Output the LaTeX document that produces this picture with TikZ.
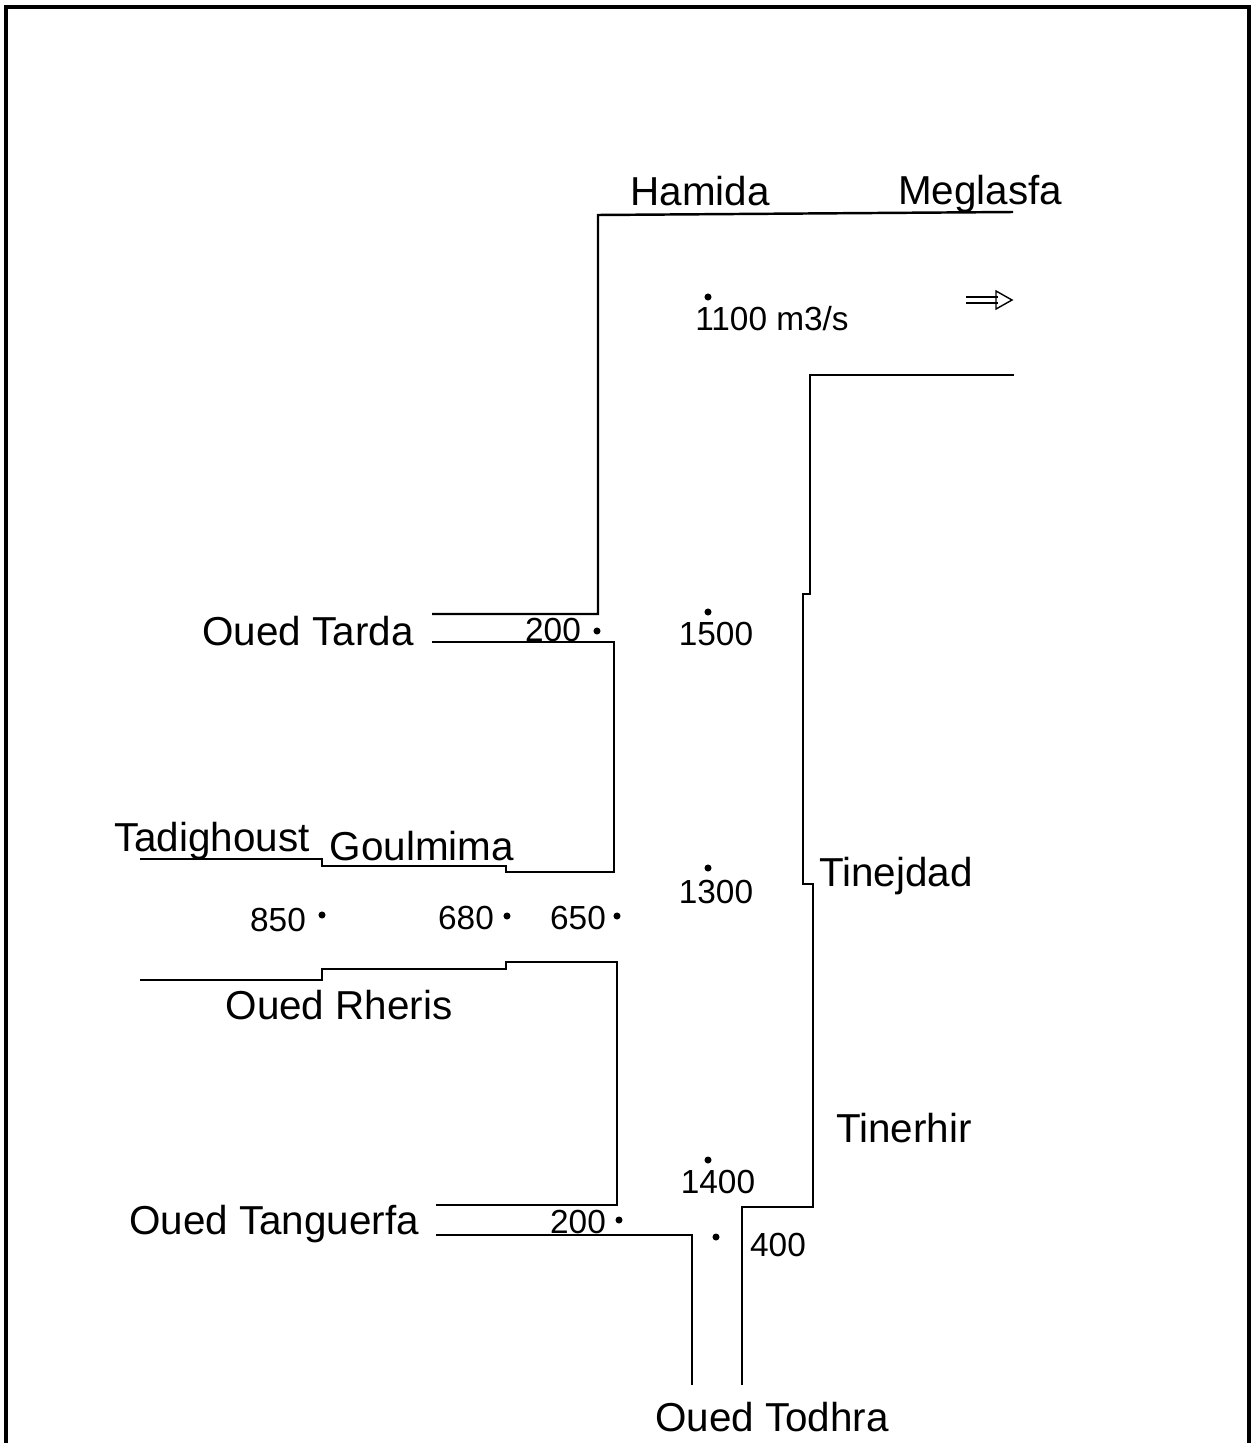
\documentclass[tikz,border=0pt]{standalone}
\usepackage{fontspec}
\setmainfont{Liberation Sans}
\usetikzlibrary{arrows.meta}

\begin{document}
\begin{tikzpicture}[
  x=0.02cm, y=-0.02cm,
  bank/.style={draw=black, line width=1.4pt, line join=miter},
  frm/.style={draw=black, line width=2pt},
  lbl/.style={font=\fontsize{23}{27}\selectfont, inner sep=1pt},
  num/.style={font=\fontsize{19}{22}\selectfont, inner sep=1pt},
  pt/.style={fill=black, circle, inner sep=0pt, minimum size=4pt}
]
\useasboundingbox (0,0) rectangle (1255,1443);
% frame, open at the bottom
\draw[frm] (6,1460) -- (6,7) -- (1249,7) -- (1249,1460);

% left bank of the main valley
\draw[bank] (1013,212) -- (598,215) -- (598,614) -- (432,614);
\draw[bank] (432,642) -- (614,642) -- (614,872) -- (506,872) -- (506,866)
  -- (322,866) -- (322,859) -- (140,859);
\draw[bank] (140,980) -- (322,980) -- (322,969) -- (506,969) -- (506,962)
  -- (617,962) -- (617,1205) -- (436,1205);
\draw[bank] (436,1235) -- (692,1235) -- (692,1385);
% right bank
\draw[bank] (742,1385) -- (742,1207) -- (813,1207) -- (813,884) -- (803,884)
  -- (803,594) -- (810,594) -- (810,375) -- (1014,375);

% flow arrow
\draw[line width=0.8pt] (966,297) -- (998,297) (966,303) -- (998,303);
\draw[line width=0.8pt] (996,291) -- (1012,300) -- (996,309) -- cycle;

% places
\node[lbl, anchor=base] (hamida) at (700,205) {Hamida};
\node[lbl, anchor=base] (meglasfa) at (980,204) {Meglasfa};
\node[lbl, anchor=base] (tarda) at (308,645) {Oued Tarda};
\node[lbl, anchor=base] (tadighoust) at (212,851) {Tadighoust};
\node[lbl, anchor=base] (goulmima) at (422,860) {Goulmima};
\node[lbl, anchor=base] (tinejdad) at (896,886) {Tinejdad};
\node[lbl, anchor=base] (rheris) at (339,1019) {Oued Rheris};
\node[lbl, anchor=base] (tinerhir) at (904,1142) {Tinerhir};
\node[lbl, anchor=base] (tanguerfa) at (274,1234) {Oued Tanguerfa};
\node[lbl, anchor=base] (todhra) at (772,1431) {Oued Todhra};

% discharges
\node[num, anchor=base] (q1100) at (772,330) {1100 m3/s};
\node[pt] (p1100) at (708,297) {};
\node[num, anchor=base] (q1500) at (716,645) {1500};
\node[pt] (p1500) at (708,612) {};
\node[num, anchor=base] (qt200) at (553,641) {200};
\node[pt] (pt200) at (597,631) {};
\node[num, anchor=base] (q1300) at (716,903) {1300};
\node[pt] (p1300) at (708,868) {};
\node[num, anchor=base] (q850) at (278,931) {850};
\node[pt] (p850) at (322,915) {};
\node[num, anchor=base] (q680) at (466,929) {680};
\node[pt] (p680) at (507,916) {};
\node[num, anchor=base] (q650) at (578,929) {650};
\node[pt] (p650) at (617,916) {};
\node[num, anchor=base] (q1400) at (718,1193) {1400};
\node[pt] (p1400) at (708,1160) {};
\node[num, anchor=base] (qg200) at (578,1233) {200};
\node[pt] (pg200) at (619,1220) {};
\node[pt] (p400) at (716,1237) {};
\node[num, anchor=base] (q400) at (778,1256) {400};
\end{tikzpicture}
\end{document}
